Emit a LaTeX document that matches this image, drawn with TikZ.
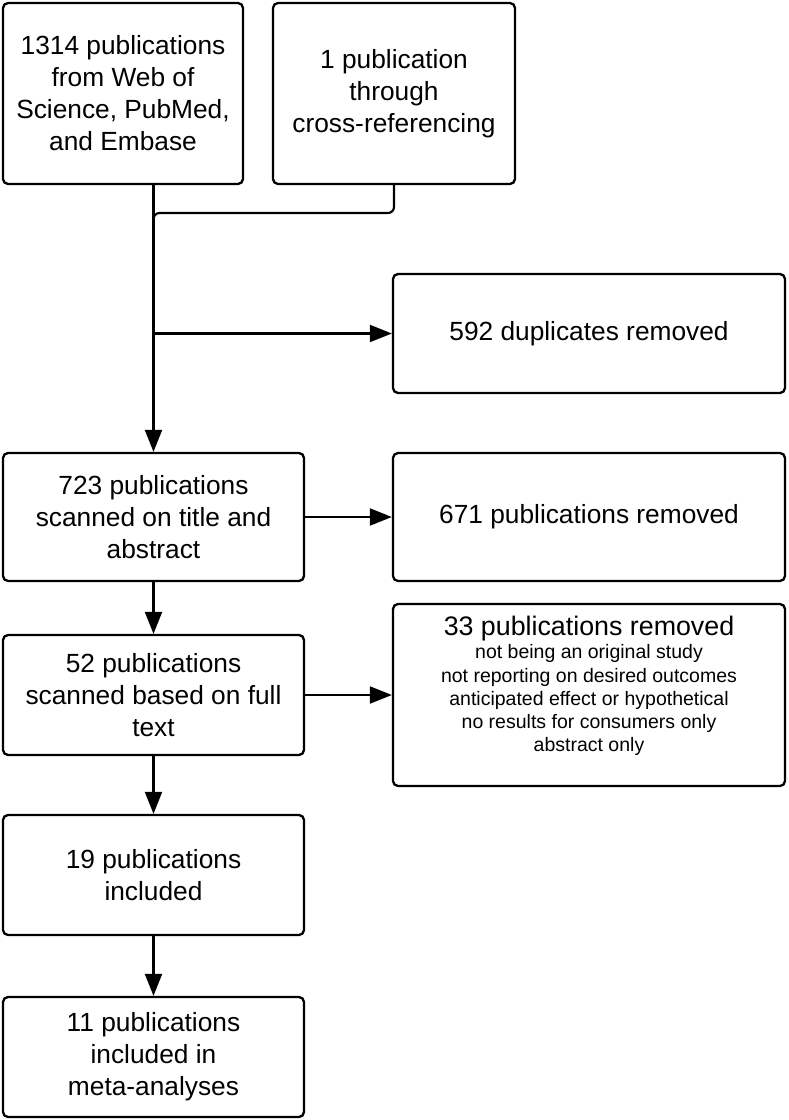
\documentclass[tikz,border=0pt]{standalone}
\usepackage{fontspec}
\setmainfont{Liberation Sans}
\usetikzlibrary{arrows.meta,calc}
\begin{document}
\begin{tikzpicture}[x=1pt,y=-1pt,
  box/.style={draw=black, line width=2.3pt, rounded corners=5pt, fill=white,
    align=center, inner sep=0pt, font=\fontsize{26.3}{32}\selectfont},
  conn/.style={line width=2.1pt, draw=black},
  arr/.style={conn, -{Triangle[length=22pt,width=17pt]}}]
\useasboundingbox (0,0) rectangle (788,1120);
\node[box, minimum width=240pt, minimum height=181pt] (b1) at (123,93.5)
  {1314 publications\\from Web of\\Science, PubMed,\\and Embase};
\node[box, minimum width=242pt, minimum height=181pt, text depth=6pt] (b2) at (394,93.5)
  {1 publication\\through\\cross-referencing};
\node[box, minimum width=392pt, minimum height=119pt] (dup) at (589,333.5)
  {592 duplicates removed};
\node[box, minimum width=301pt, minimum height=128pt] (b3) at (153.5,517)
  {723 publications\\scanned on title and\\abstract};
\node[box, minimum width=392pt, minimum height=128pt] (r671) at (589,517)
  {671 publications removed};
\node[box, minimum width=301pt, minimum height=120pt] (b4) at (153.5,695)
  {52 publications\\scanned based on full\\text};
\node[box, minimum width=392pt, minimum height=182pt] (r33) at (589,695) {};
\node[align=center, inner sep=0pt, font=\fontsize{19.5}{23.3}\selectfont] (r33t) at (589,686)
  {\fontsize{26.8}{29}\selectfont 33 publications removed\\
   \fontsize{19.5}{23.3}\selectfont not being an original study\\
   not reporting on desired outcomes\\
   anticipated effect or hypothetical\\
   no results for consumers only\\
   abstract only};
\node[box, minimum width=301pt, minimum height=120pt] (b5) at (153.5,875)
  {19 publications\\included};
\node[box, minimum width=301pt, minimum height=120pt] (b6) at (153.5,1057)
  {11 publications\\included in\\meta-analyses};
\coordinate (j) at (153.5,213);
\coordinate (j2) at (153.5,240);
\draw[arr] (b3.north |- b1.south) -- (b3.north);
\draw[conn, rounded corners=6pt] (b2.south) |- (j) -- (j2);
\draw[arr] (b3.north |- dup.west) -- (dup.west);
\draw[arr] (b3.east) -- (r671.west);
\draw[arr] (b3.south) -- (b4.north);
\draw[arr] (b4.east) -- (r33.west);
\draw[arr] (b4.south) -- (b5.north);
\draw[arr] (b5.south) -- (b6.north);
\end{tikzpicture}
\end{document}
